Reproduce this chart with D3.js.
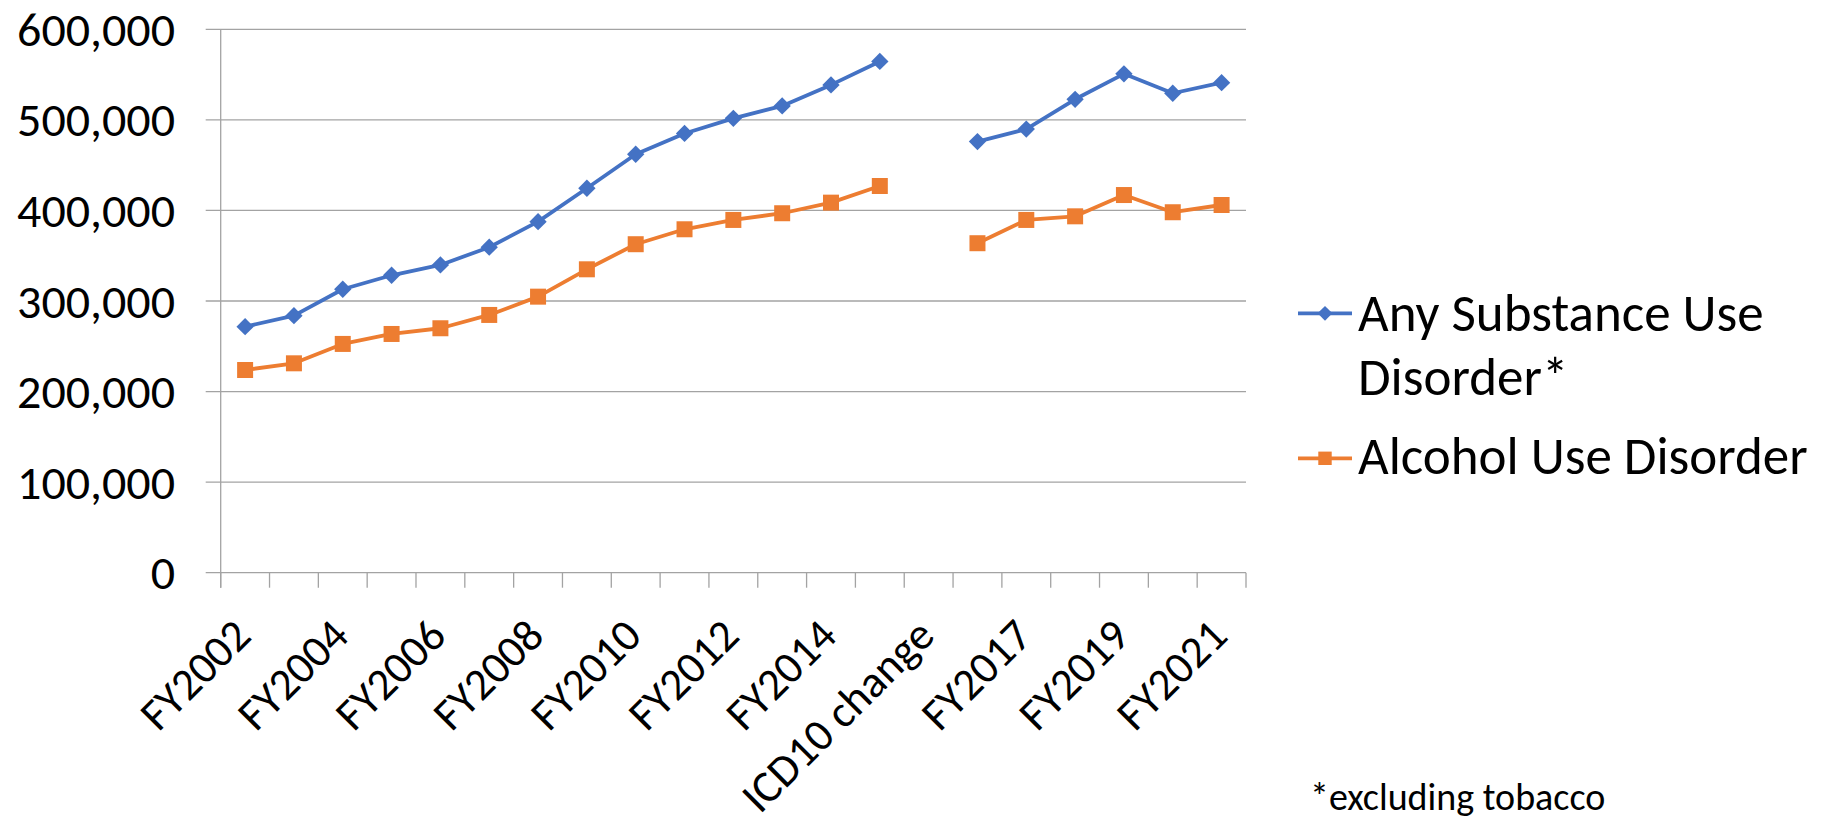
<!DOCTYPE html>
<html>
<head>
<meta charset="utf-8">
<script src="https://cdn.jsdelivr.net/npm/d3@7/dist/d3.min.js"></script>
<style>
  html, body { margin: 0; padding: 0; background: #ffffff; }
  svg { display: block; }
  text { font-family: Carlito, Lato, "Open Sans", sans-serif; fill: #000; }
</style>
</head>
<body>
<svg id="chart" width="1821" height="822"></svg>
<script>
// ---- data ----
const categories = ["FY2002","FY2003","FY2004","FY2005","FY2006","FY2007","FY2008","FY2009",
  "FY2010","FY2011","FY2012","FY2013","FY2014","FY2015","ICD10 change",
  "FY2016","FY2017","FY2018","FY2019","FY2020","FY2021"];
const tickLabels = ["FY2002","FY2004","FY2006","FY2008","FY2010","FY2012","FY2014",
  "ICD10 change","FY2017","FY2019","FY2021"];
const anySUD = [271700, 283800, 313000, 328400, 339800, 359400, 387600, 424500, 462000, 485000,
  501700, 515400, 538600, 564500, null, 476000, 489800, 522700, 550800, 529400, 541100];
const alcoholUD = [223800, 231200, 252600, 263600, 269900, 284600, 304800, 335000, 362700, 379200,
  389500, 396900, 408600, 427000, null, 363800, 389500, 393500, 417000, 398000, 406000];
const yTicks = [0, 100000, 200000, 300000, 400000, 500000, 600000];
const seriesNames = ["Any Substance Use Disorder*", "Alcohol Use Disorder"];
const footnote = "*excluding tobacco";

// ---- layout ----
const svg = d3.select("#chart");
const plotLeft = 220.7, plotRight = 1246, plotTop = 29.3, plotBottom = 572.7;
const blue = "#4472C4", orange = "#ED7D31", gridColor = "#A3A3A3";

const x = d3.scaleBand().domain(categories).range([plotLeft, plotRight]).padding(0);
const y = d3.scaleLinear().domain([0, 600000]).range([plotBottom, plotTop]);
const fmt = d3.format(",");

// gridlines
svg.append("g").selectAll("line").data(yTicks).join("line")
  .attr("x1", plotLeft - 15).attr("x2", plotRight)
  .attr("y1", d => y(d)).attr("y2", d => y(d))
  .attr("stroke", gridColor).attr("stroke-width", 1.3);

// vertical axis line
svg.append("line")
  .attr("x1", plotLeft).attr("x2", plotLeft)
  .attr("y1", y(600000)).attr("y2", plotBottom + 15)
  .attr("stroke", gridColor).attr("stroke-width", 1.3);

// x ticks at band boundaries
const boundaries = categories.map(c => x(c)).concat([plotRight]);
svg.append("g").selectAll("line").data(boundaries).join("line")
  .attr("x1", d => d).attr("x2", d => d)
  .attr("y1", plotBottom).attr("y2", plotBottom + 15)
  .attr("stroke", gridColor).attr("stroke-width", 1.3);

// y labels
svg.append("g").selectAll("text").data(yTicks).join("text")
  .attr("x", 175).attr("y", d => y(d))
  .attr("text-anchor", "end").attr("dominant-baseline", "central")
  .style("font-size", "48px")
  .text(d => fmt(d));

// x labels
svg.append("g").selectAll("text").data(tickLabels).join("text")
  .attr("text-anchor", "end")
  .attr("transform", d => `translate(${x(d) + x.bandwidth() / 2 + 8},638) rotate(-45)`)
  .style("font-size", "45px")
  .text(d => d);

// series
const cx = (i) => x(categories[i]) + x.bandwidth() / 2;
const line = d3.line().defined(d => d.v != null).x(d => cx(d.i)).y(d => y(d.v));
const seriesData = [
  { vals: anySUD, color: blue, shape: "diamond" },
  { vals: alcoholUD, color: orange, shape: "square" }
];
const diamond = d3.symbol().type(d3.symbolSquare).size(150);
const square = d3.symbol().type(d3.symbolSquare).size(256);

seriesData.forEach(s => {
  const pts = s.vals.map((v, i) => ({ v, i }));
  svg.append("path").datum(pts)
    .attr("d", line).attr("fill", "none")
    .attr("stroke", s.color).attr("stroke-width", 3.8)
    .attr("stroke-linejoin", "round");
  svg.append("g").selectAll("path").data(pts.filter(d => d.v != null)).join("path")
    .attr("d", s.shape === "diamond" ? diamond : square)
    .attr("transform", d => `translate(${cx(d.i)},${y(d.v)})` + (s.shape === "diamond" ? " rotate(45)" : ""))
    .attr("fill", s.color);
});

// legend
const legend = svg.append("g");
const legendItems = [
  { name: seriesNames[0], color: blue, shape: "diamond", ly: 313.3, lines: ["Any Substance Use", "Disorder*"], base: 331 },
  { name: seriesNames[1], color: orange, shape: "square", ly: 458.3, lines: ["Alcohol Use Disorder"], base: 474 }
];
legendItems.forEach(it => {
  legend.append("line").attr("x1", 1298).attr("x2", 1352)
    .attr("y1", it.ly).attr("y2", it.ly)
    .attr("stroke", it.color).attr("stroke-width", 3.8);
  legend.append("path")
    .attr("d", it.shape === "diamond" ? d3.symbol().type(d3.symbolSquare).size(110)() : d3.symbol().type(d3.symbolSquare).size(180)())
    .attr("transform", `translate(1325,${it.ly})` + (it.shape === "diamond" ? " rotate(45)" : ""))
    .attr("fill", it.color);
  const t = legend.append("text").attr("x", 1358).attr("y", it.base).style("font-size", "53px");
  it.lines.forEach((l, k) => {
    t.append("tspan").attr("x", 1358).attr("y", it.base + k * 64).text(l);
  });
});

// footnote
svg.append("text").attr("x", 1310).attr("y", 810)
  .style("font-size", "38px").text(footnote);
</script>
</body>
</html>
